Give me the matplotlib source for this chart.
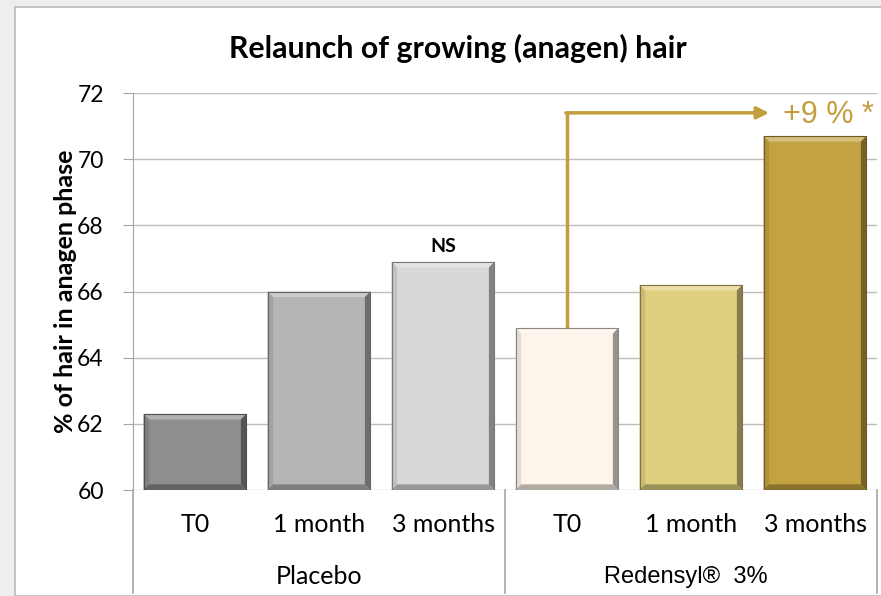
import matplotlib.pyplot as plt
from matplotlib.patches import Polygon, Rectangle
import matplotlib.transforms as mtransforms

# Data
groups = ["Placebo", "Redensyl®  3%"]
timepoints = ["T0", "1 month", "3 months"]
placebo = [62.3, 66.0, 66.9]
redensyl = [64.9, 66.2, 70.7]
bar_colors = ["#8E8E8E", "#B5B5B5", "#D8D8D8", "#FDF4EA", "#DFD07F", "#C4A242"]
gold = "#C49E3E"

values = placebo + redensyl
labels = timepoints + timepoints
x = list(range(len(values)))

fig = plt.figure(figsize=(8.81, 5.96), dpi=100, facecolor="#EEEEEE")
# white chart panel
fig.patches.append(Rectangle((15 / 881, 0), 1, 1 - 7 / 596, transform=fig.transFigure,
                             facecolor="white", edgecolor="#B8B8B8", linewidth=1.2, zorder=-10))

ax = fig.add_axes([133 / 881, 106 / 596, 744 / 881, 397 / 596])
ax.set_facecolor("none")
ax.set_xlim(-0.5, 5.5)
ax.set_ylim(60, 72)
ax.set_yticks(range(60, 73, 2))
ax.grid(axis="y", color="#BDBDBD", linewidth=1)
ax.set_axisbelow(True)
for s in ["top", "right", "bottom"]:
    ax.spines[s].set_visible(False)
ax.spines["left"].set_color("#A6A6A6")
ax.tick_params(axis="y", length=7, color="#A6A6A6", labelsize=16.5, pad=14)
ax.tick_params(axis="x", length=0)
ax.set_xticks([])
for t in ax.get_yticklabels():
    t.set_fontfamily("Lato")

bars = ax.bar(x, [v - 60 for v in values], bottom=60, width=0.83, color=bar_colors, zorder=2)


def shade(c, f):
    r, g, b = [int(c[i:i + 2], 16) / 255 for i in (1, 3, 5)]
    if f < 1:
        return (r * f, g * f, b * f)
    return (r + (1 - r) * (f - 1), g + (1 - g) * (f - 1), b + (1 - b) * (f - 1))


# bevel edges
dx, dy = 0.045, 0.17
for b, c in zip(bars, bar_colors):
    x0, w = b.get_x(), b.get_width()
    y0, h = b.get_y(), b.get_height()
    x1, y1 = x0 + w, y0 + h
    sides = [
        ([(x0, y1), (x1, y1), (x1 - dx, y1 - dy), (x0 + dx, y1 - dy)], shade(c, 1.3)),
        ([(x0, y0), (x0, y1), (x0 + dx, y1 - dy), (x0 + dx, y0 + dy)], shade(c, 0.9)),
        ([(x1, y0), (x1, y1), (x1 - dx, y1 - dy), (x1 - dx, y0 + dy)], shade(c, 0.6)),
        ([(x0, y0), (x1, y0), (x1 - dx, y0 + dy), (x0 + dx, y0 + dy)], shade(c, 0.7)),
    ]
    for pts, col in sides:
        ax.add_patch(Polygon(pts, closed=True, facecolor=col, edgecolor="none", zorder=3))
    ax.add_patch(Rectangle((x0, y0), w, h, facecolor="none", edgecolor=shade(c, 0.55),
                           linewidth=0.8, zorder=4))

# category labels and group separators
trans = mtransforms.blended_transform_factory(ax.transData, ax.transAxes)
for xi, lab in zip(x, labels):
    ax.text(xi, -34 / 397, lab, transform=trans, ha="center", va="center",
            fontsize=18, fontfamily="Lato")
for gi, g in enumerate(groups):
    fam = "Lato" if gi == 0 else "Liberation Sans"
    ax.text(gi * 3 + 1 - 0.04 * gi, -87 / 397, g, transform=trans, ha="center",
            va="center", fontsize=18 if gi == 0 else 17, fontfamily=fam)
for xs in [-0.5, 2.5, 5.5]:
    ax.plot([xs, xs], [0, -0.26], transform=trans, color="#A6A6A6", linewidth=1.2,
            clip_on=False)

# NS annotation
ax.text(x[2], values[2] + 0.45, "NS", ha="center", va="center", fontsize=14,
        fontweight="bold", fontfamily="Lato")

# arrow from Redensyl T0 to 3 months
arrow_y = 71.4
ax.plot([x[3], x[3]], [values[3], arrow_y], color=gold, linewidth=2.5, zorder=5,
        solid_capstyle="butt")
ax.annotate("", xy=(x[5] - 0.37, arrow_y), xytext=(x[3] - 0.01, arrow_y),
            arrowprops=dict(arrowstyle="-|>", color=gold, lw=2.5, mutation_scale=18,
                            shrinkA=0, shrinkB=0), zorder=5)
ax.text(x[5] - 0.26, arrow_y - 0.05, "+9 % *", ha="left", va="center", fontsize=22,
        color=gold, fontfamily="Liberation Sans", clip_on=False)

ax.set_ylabel("% of hair in anagen phase", fontsize=18, fontweight="bold",
              fontfamily="Lato", labelpad=0)
fig.text(458 / 881, 1 - 48 / 596, "Relaunch of growing (anagen) hair", ha="center",
         va="center", fontsize=21.8, fontweight="bold", fontfamily="Lato")

fig.savefig("out.png", dpi=100, facecolor=fig.get_facecolor())
